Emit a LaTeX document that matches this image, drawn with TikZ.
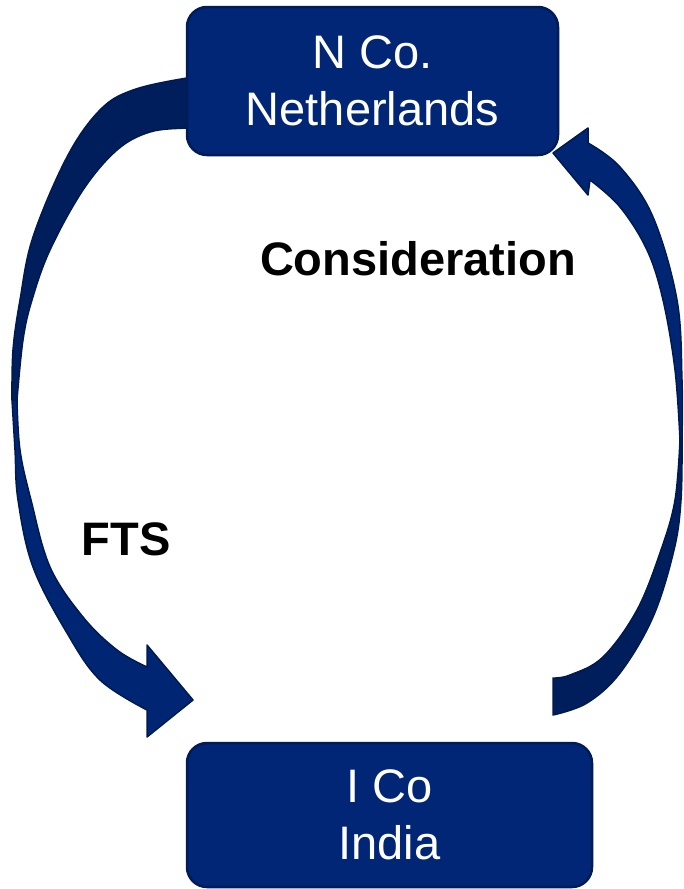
\documentclass[tikz,border=0pt]{standalone}
\usepackage{fontspec}
\setmainfont{Liberation Sans}
\definecolor{boxblue}{RGB}{0,38,117}
\definecolor{boxedge}{RGB}{0,28,88}
\definecolor{arrowdark}{RGB}{0,30,92}
\definecolor{arrowlight}{RGB}{0,38,115}
\definecolor{arrowedge}{RGB}{0,26,80}
\begin{document}
\begin{tikzpicture}[x=1pt,y=-1pt,
  entity/.style={draw=boxedge, line width=2.5pt, fill=boxblue, rounded corners=20pt,
    text=white, align=center, font=\fontsize{47}{57}\selectfont, inner sep=0pt},
  bandback/.style={fill=arrowdark, draw=arrowedge, line width=1.5pt, line join=round},
  bandfront/.style={fill=arrowlight, draw=arrowedge, line width=1.5pt, line join=round},
  caption/.style={font=\bfseries\fontsize{47}{57}\selectfont, anchor=base}]
\useasboundingbox (0,0) rectangle (683,889);

% FTS arrow: rear (darker) half leaving N Co.
\path[bandback] plot[smooth, tension=0.6] coordinates {(205,78) (187,78) (133,90) (100,110) (67,157) (33,237) (20,300) (13,350) (12,400)}
  -- plot[smooth, tension=0.6] coordinates {(17,400) (23,340) (32,300) (50,250) (83,190) (117,150) (150,132) (187,128) (205,128)} -- cycle;
% FTS arrow: front half with head towards I Co
\path[bandfront] plot[smooth, tension=0.6] coordinates {(12,400) (15,450) (18,500) (33,567) (67,633) (100,680) (147,710)}
  -- (147,737) -- (193,700) -- (147,645)
  -- plot[smooth, tension=0.6] coordinates {(147,667) (117,650) (83,617) (50,567) (31,500) (20,450) (17,400)} -- cycle;

% Consideration arrow: rear (darker) half leaving I Co
\path[bandback] plot[smooth, tension=0.6] coordinates {(553,678) (570,675) (603,657) (637,610) (661,550) (675,500) (680,440)}
  -- plot[smooth, tension=0.6] coordinates {(682,440) (681,500) (674,550) (653,617) (620,673) (587,703) (553,715)} -- cycle;
% Consideration arrow: front half with head towards N Co.
\path[bandfront] plot[smooth, tension=0.6] coordinates {(680,440) (675,370) (663,300) (647,250) (620,207) (590,180)}
  -- (588,195) -- (553,153) -- (588,128)
  -- plot[smooth, tension=0.6] coordinates {(588,143) (620,167) (653,217) (677,300) (682,380) (682,440)} -- cycle;

% Entities
\node[entity, minimum width=371pt, minimum height=148pt] (nco) at (372.5,81) {N Co.\\Netherlands};
\node[entity, minimum width=405pt, minimum height=144pt] (ico) at (389.5,815) {I Co\\India};

% Flow labels
\node[caption] (cons) at (418,275) {Consideration};
\node[caption] (fts) at (126,555) {FTS};
\end{tikzpicture}
\end{document}
